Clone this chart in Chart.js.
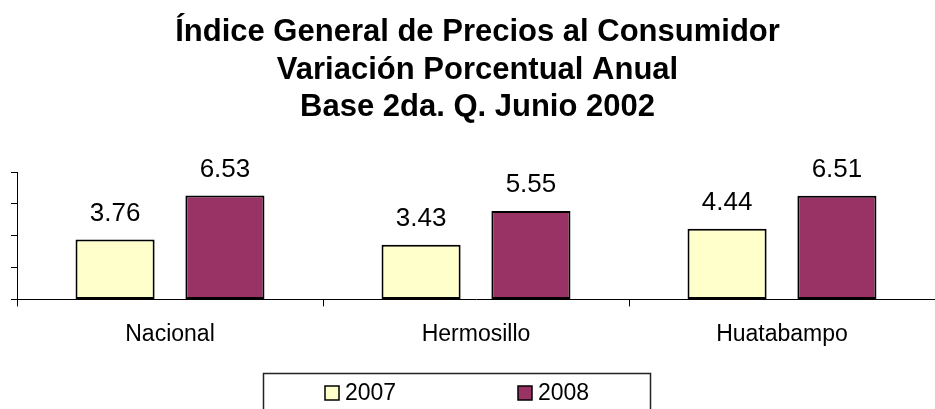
<!DOCTYPE html>
<html>
<head>
<meta charset="utf-8">
<script src="https://cdn.jsdelivr.net/npm/chart.js@4"></script>
<style>
  html, body { margin: 0; padding: 0; background: #fff; overflow: hidden; }
  #wrap { width: 935px; height: 409px; position: relative; }
</style>
</head>
<body>
<div id="wrap"><canvas id="myChart"></canvas></div>
<script>
const categorias = ['Nacional', 'Hermosillo', 'Huatabampo'];
const serie2007 = [3.76, 3.43, 4.44];
const serie2008 = [6.53, 5.55, 6.51];
const etiquetasSerie = ['2007', '2008'];
const titulo = ['Índice General de Precios al Consumidor', 'Variación Porcentual Anual', 'Base 2da. Q. Junio 2002'];

const FONT = '"Liberation Sans", Arial, sans-serif';

// etiquetas de valor encima de cada barra
const valorPlugin = {
    id: 'valores',
    afterDatasetsDraw(chart) {
        const ctx = chart.ctx;
        ctx.save();
        ctx.font = '26px ' + FONT;
        ctx.fillStyle = '#000';
        ctx.textAlign = 'center';
        ctx.textBaseline = 'middle';
        chart.data.datasets.forEach((ds, i) => {
            chart.getDatasetMeta(i).data.forEach((bar, j) => {
                ctx.fillText(ds.data[j].toFixed(2), bar.x, bar.y - 26);
            });
        });
        ctx.restore();
    }
};

// leyenda con recuadro, como la de Excel
const leyendaPlugin = {
    id: 'leyendaCaja',
    afterDraw(chart) {
        const ctx = chart.ctx;
        ctx.save();
        ctx.strokeStyle = '#222';
        ctx.lineWidth = 1.5;
        ctx.strokeRect(263.5, 373.5, 387, 60);
        ctx.font = '23px ' + FONT;
        ctx.textBaseline = 'middle';
        ctx.textAlign = 'left';
        const xs = [325, 518];
        chart.data.datasets.forEach((ds, i) => {
            ctx.fillStyle = ds.backgroundColor;
            ctx.fillRect(xs[i], 386, 14, 14);
            ctx.strokeStyle = '#000';
            ctx.lineWidth = 1.5;
            ctx.strokeRect(xs[i], 386, 14, 14);
            ctx.fillStyle = '#000';
            ctx.fillText(ds.label, xs[i] + 20, 394);
        });
        ctx.restore();
    }
};

const data = {
    labels: categorias,
    datasets: [{
        label: etiquetasSerie[0],
        data: serie2007,
        backgroundColor: '#FFFFCC',
        borderColor: '#000',
        borderWidth: 2,
        borderSkipped: false,
        categoryPercentage: 0.718,
        barPercentage: 0.72
    }, {
        label: etiquetasSerie[1],
        data: serie2008,
        backgroundColor: '#993366',
        borderColor: '#000',
        borderWidth: 2,
        borderSkipped: false,
        categoryPercentage: 0.718,
        barPercentage: 0.72
    }]
};

const config = {
    type: 'bar',
    data: data,
    options: {
        responsive: true,
        maintainAspectRatio: false,
        animation: false,
        layout: { padding: { left: 11, right: -9, top: 0, bottom: 47 } },
        plugins: {
            legend: { display: false },
            tooltip: { enabled: false },
            title: {
                display: true,
                text: titulo,
                color: '#000',
                font: { family: FONT, size: 31, weight: 'bold', lineHeight: 37.5 / 31 },
                padding: { top: 14, bottom: 45.5 }
            }
        },
        scales: {
            x: {
                grid: { drawOnChartArea: false, tickLength: 7, color: '#000', offset: true },
                border: { color: '#000', width: 1 },
                ticks: { color: '#000', padding: 14, font: { family: FONT, size: 23 } }
            },
            y: {
                min: 0,
                max: 8,
                ticks: { stepSize: 2, display: false },
                grid: { drawOnChartArea: false, tickLength: 6, color: '#000' },
                border: { color: '#000', width: 1 }
            }
        }
    },
    plugins: [valorPlugin, leyendaPlugin]
};

const ctx = document.getElementById('myChart');
let grafica = new Chart(ctx, config);
</script>
</body>
</html>
